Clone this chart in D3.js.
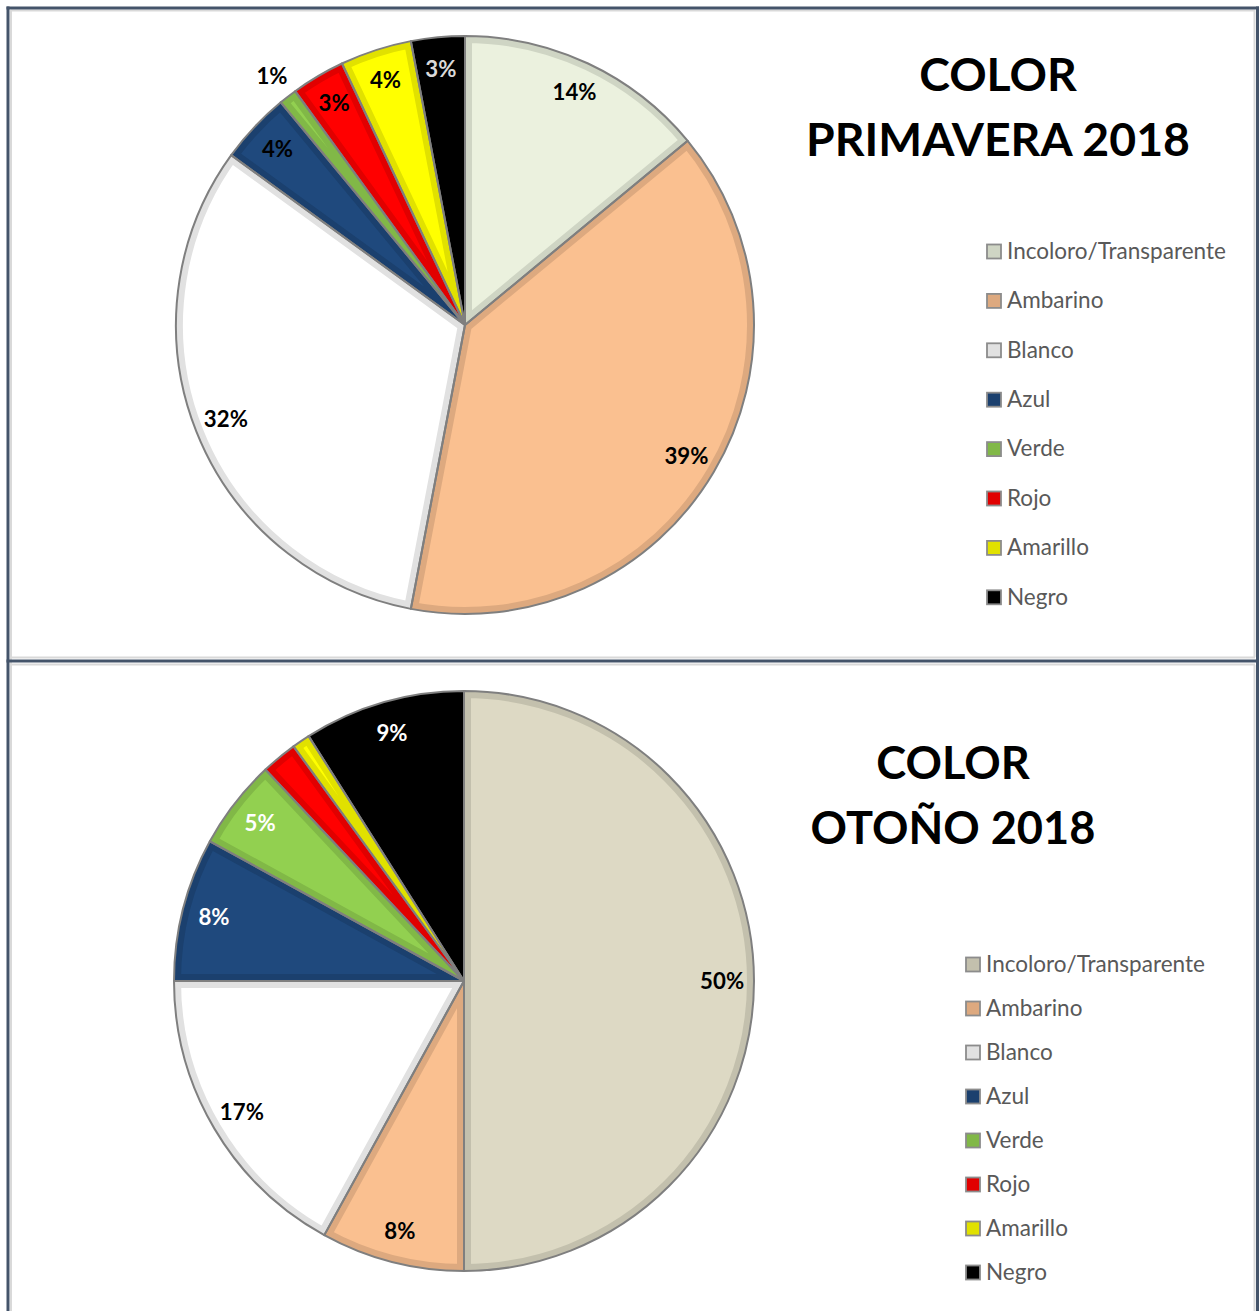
<!DOCTYPE html>
<html>
<head>
<meta charset="utf-8">
<script src="https://cdn.jsdelivr.net/npm/d3@7"></script>
<style>
  body { margin: 0; background: #fff; }
  svg { display: block; }
</style>
</head>
<body>
<svg id="chart" width="1260" height="1311"></svg>
<script>
// ---- data ----
const categories = ["Incoloro/Transparente", "Ambarino", "Blanco", "Azul", "Verde", "Rojo", "Amarillo", "Negro"];
const primaveraValues = [14, 39, 32, 4, 1, 3, 4, 3];
const otonoValues = [50, 8, 17, 8, 5, 2, 1, 9];
const otonoUnlabeled = ["Rojo", "Amarillo"];
const primaveraTitle = ["COLOR", "PRIMAVERA 2018"];
const otonoTitle = ["COLOR", "OTOÑO 2018"];

// ---- styling ----
const primaveraColors = ["#EBF1DE", "#FAC090", "#FFFFFF", "#1F497D", "#92D050", "#FF0000", "#FFFF00", "#000000"];
const otonoColors = ["#DDD9C4", "#FAC090", "#FFFFFF", "#1F497D", "#92D050", "#FF0000", "#FFFF00", "#000000"];
const primaveraInk = ["#000", "#000", "#000", "#000", "#000", "#000", "#000", "#d9d9d9"];
const otonoInk = ["#000", "#000", "#000", "#fff", "#fff", "#000", "#000", "#fff"];

const svg = d3.select("#chart");
const defs = svg.append("defs");
const FONT = "Lato, 'Open Sans', 'Noto Sans', sans-serif";

// frame
const frame = svg.append("g");
const inner = "#d9d9d9", outer = "#44546a";
[[11, 10, 11, 1311], [11, 10.5, 1255, 10.5], [1254.5, 10, 1254.5, 657], [1254.5, 665, 1254.5, 1311],
 [11, 657.5, 1255, 657.5], [11, 664.5, 1255, 664.5]].forEach(([x1, y1, x2, y2]) =>
  frame.append("line").attr("x1", x1).attr("y1", y1).attr("x2", x2).attr("y2", y2)
    .attr("stroke", inner).attr("stroke-width", 2));
[[8, 6.5, 8, 1311], [6.5, 8, 1259, 8], [1257.5, 6.5, 1257.5, 1311], [6.5, 661, 1259, 661]].forEach(([x1, y1, x2, y2]) =>
  frame.append("line").attr("x1", x1).attr("y1", y1).attr("x2", x2).attr("y2", y2)
    .attr("stroke", outer).attr("stroke-width", 3));

// scale a font so a string spans a given width
function fitSize(text, weight, targetWidth) {
  const t = svg.append("text").attr("font-family", FONT).attr("font-weight", weight)
    .attr("font-size", 100).text(text);
  const w = t.node().getComputedTextLength();
  t.remove();
  return 100 * targetWidth / w;
}

const legendSize = fitSize("Incoloro/Transparente", 400, 219);
const labelSize = fitSize("39%", 700, 44);

function drawPanel(cfg) {
  const data = categories.map((c, i) => ({ cat: c, value: cfg.values[i], color: cfg.colors[i], ink: cfg.ink[i] }));
  const pie = d3.pie().sort(null).value(d => d.value);
  const arcs = pie(data);
  const arc = d3.arc().innerRadius(0).outerRadius(cfg.r);
  const shade = c => d3.color(c).darker(0.35).formatHex();

  const g = svg.append("g").attr("transform", `translate(${cfg.cx},${cfg.cy})`);

  // slices with a soft inner edge
  g.selectAll("g.slice").data(arcs).join("g").attr("class", "slice").each(function (d, i) {
    const id = `${cfg.id}-clip-${i}`;
    defs.append("clipPath").attr("id", id).append("path").attr("d", arc(d));
    const s = d3.select(this);
    s.append("path").attr("d", arc(d)).attr("fill", d.data.color);
    s.append("path").attr("d", arc(d)).attr("fill", "none")
      .attr("stroke", shade(d.data.color)).attr("stroke-width", 14)
      .attr("stroke-linejoin", "round").attr("clip-path", `url(#${id})`);
  });

  g.selectAll("path.outline").data(arcs).join("path").attr("class", "outline")
    .attr("d", arc).attr("fill", "none").attr("stroke", "#7f7f7f")
    .attr("stroke-width", 2).attr("stroke-linejoin", "round");

  // percentage labels
  const inArc = d3.arc().innerRadius(cfg.r * 0.89).outerRadius(cfg.r * 0.89);
  const outArc = d3.arc().innerRadius(cfg.r * 1.09).outerRadius(cfg.r * 1.09);
  g.selectAll("text.pct").data(arcs.filter(d => !cfg.unlabeled.includes(d.data.cat)))
    .join("text").attr("class", "pct")
    .attr("transform", d => `translate(${(d.value < 2 ? outArc : inArc).centroid(d)})`)
    .attr("text-anchor", "middle").attr("dy", "0.35em")
    .attr("font-family", FONT).attr("font-weight", 700).attr("font-size", labelSize)
    .attr("fill", d => d.value < 2 ? "#000" : d.data.ink)
    .text(d => `${d.data.value}%`);

  // title
  const tSize = fitSize(cfg.title[1], 700, cfg.titleWidth);
  const t = svg.append("text").attr("text-anchor", "middle")
    .attr("font-family", FONT).attr("font-weight", 700).attr("font-size", tSize).attr("fill", "#000");
  cfg.title.forEach((line, i) =>
    t.append("tspan").attr("x", cfg.titleX).attr("y", cfg.titleY + i * cfg.titleGap).text(line));

  // legend
  const lg = svg.append("g").attr("transform", `translate(${cfg.legendX},${cfg.legendY})`);
  const row = lg.selectAll("g").data(data).join("g")
    .attr("transform", (d, i) => `translate(0,${i * cfg.legendStep})`);
  row.append("rect").attr("x", 1).attr("y", -6.5).attr("width", 14).attr("height", 14)
    .attr("fill", d => shade(d.color)).attr("stroke", "#8c8c8c").attr("stroke-width", 1.8);
  row.append("text").attr("x", 21).attr("dy", "0.35em")
    .attr("font-family", FONT).attr("font-size", legendSize).attr("fill", "#595959")
    .text(d => d.cat);
}

drawPanel({
  id: "primavera", values: primaveraValues, colors: primaveraColors, ink: primaveraInk, unlabeled: [],
  cx: 465, cy: 325, r: 289,
  title: primaveraTitle, titleX: 998, titleY: 91, titleGap: 65, titleWidth: 384,
  legendX: 986, legendY: 251, legendStep: 49.4
});

drawPanel({
  id: "otono", values: otonoValues, colors: otonoColors, ink: otonoInk, unlabeled: otonoUnlabeled,
  cx: 464, cy: 981, r: 290,
  title: otonoTitle, titleX: 953, titleY: 779, titleGap: 65, titleWidth: 285,
  legendX: 965, legendY: 964, legendStep: 44
});
</script>
</body>
</html>
